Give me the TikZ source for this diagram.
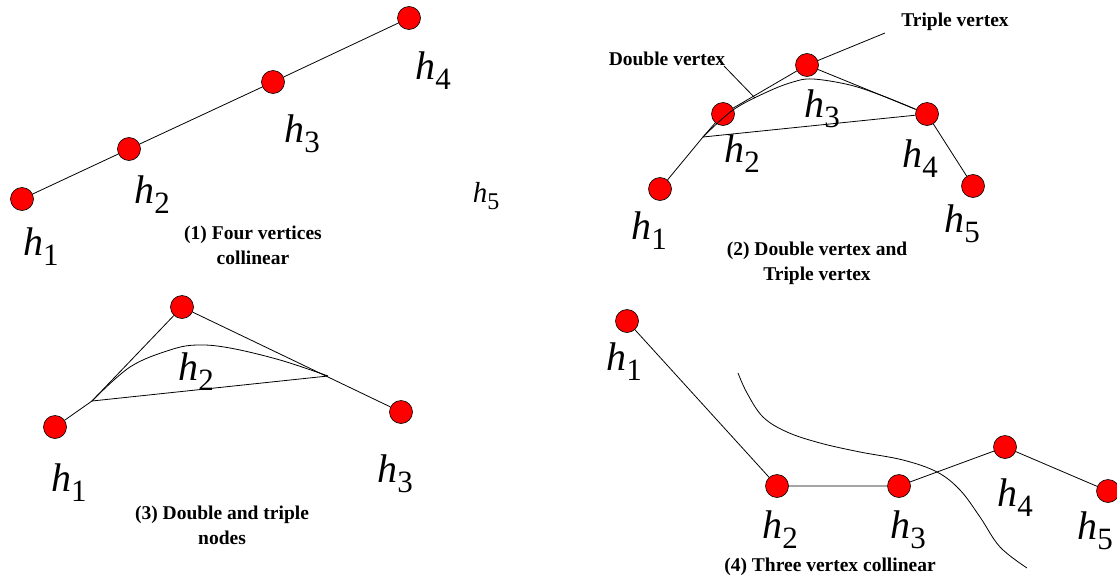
\documentclass[tikz,border=0pt]{standalone}
\usepackage{fontspec}
\setmainfont{Liberation Serif}
\tikzset{
  vtx/.style={circle, fill=red, draw=black, line width=0.6pt, minimum size=23pt, inner sep=0pt},
  conn/.style={draw=black, line width=0.8pt},
  lab/.style={inner sep=0pt},
  captext/.style={font=\fontsize{19.5}{25}\selectfont\bfseries, align=center, inner sep=0pt},
  callout/.style={font=\fontsize{19.5}{20}\selectfont\bfseries, inner sep=0pt},
}
\newcommand\hlab[1]{{\fontsize{40}{40}\selectfont\itshape h}\raisebox{-10pt}{\fontsize{31}{31}\selectfont #1}}
\newcommand\hsmall[1]{{\fontsize{29}{29}\selectfont\itshape h}\raisebox{-7pt}{\fontsize{24}{24}\selectfont #1}}
\begin{document}
\begin{tikzpicture}[x=1pt,y=-1pt]
\useasboundingbox (0,0) rectangle (1117,581);

% ---------- Panel 1 ----------
\node[vtx] (a1) at (22,199) {};
\node[vtx] (a2) at (129,149) {};
\node[vtx] (a3) at (273,82) {};
\node[vtx] (a4) at (409,18) {};
\draw[conn] (a1) -- (a2) -- (a3) -- (a4);
\node[lab] (la1) at (41,247) {\hlab{1}};
\node[lab] (la2) at (152,195) {\hlab{2}};
\node[lab] (la3) at (302,134) {\hlab{3}};
\node[lab] (la4) at (433,71) {\hlab{4}};
\node[lab] (la5) at (486,196) {\hsmall{5}};
\node[captext] (c1) at (253,245) {(1) Four vertices\\collinear};

% ---------- Panel 2 ----------
\node[vtx] (b1) at (660,189) {};
\node[vtx] (b2) at (723,114) {};
\node[vtx] (b3) at (807,65) {};
\node[vtx] (b4) at (927,114) {};
\node[vtx] (b5) at (973,186) {};
\coordinate (bA) at (703,137);
\draw[conn] (b1) -- (bA) -- (b2) -- (b3) -- (b4) -- (b5);
\draw[conn] (bA) -- (b4);
\draw[conn] plot[smooth, tension=0.6] coordinates {(703,137) (733,110) (767,92) (793,82) (813,79) (850,85) (883,96) (915,109)};
\node[lab] (lb1) at (649,231) {\hlab{1}};
\node[lab] (lb2) at (742,154) {\hlab{2}};
\node[lab] (lb3) at (822,109) {\hlab{3}};
\node[lab] (lb4) at (920,159) {\hlab{4}};
\node[lab] (lb5) at (962,224) {\hlab{5}};
\node[callout] (dv) at (667,59) {Double vertex};
\node[callout] (tv) at (955,22) {Triple vertex};
\coordinate (dvs) at (724,66);
\coordinate (dve) at (755,98);
\coordinate (tvs) at (885,33);
\draw[conn] (dvs) -- (dve);
\draw[conn] (tvs) -- (b3);
\node[captext] (c2) at (817,263) {(2) Double vertex and\\Triple vertex};

% ---------- Panel 3 ----------
\node[vtx] (d1) at (55,427) {};
\node[vtx] (d2) at (182,307) {};
\node[vtx] (d3) at (401,412) {};
\coordinate (dA) at (92,401);
\coordinate (dB) at (328,376);
\draw[conn] (d1) -- (dA) -- (d2) -- (d3);
\draw[conn] (dA) -- (dB);
\draw[conn] plot[smooth, tension=0.6] coordinates {(92,401) (130,367) (170,350) (197,345) (230,348) (280,360) (328,376)};
\node[lab] (ld1) at (69,483) {\hlab{1}};
\node[lab] (ld2) at (196,372) {\hlab{2}};
\node[lab] (ld3) at (395,474) {\hlab{3}};
\node[captext] (c3) at (222,525) {(3) Double and triple\\nodes};

% ---------- Panel 4 ----------
\node[vtx] (e1) at (627,321) {};
\node[vtx] (e2) at (777,486) {};
\node[vtx] (e3) at (899,486) {};
\node[vtx] (e4) at (1005,447) {};
\node[vtx] (e5) at (1108,491) {};
\draw[conn] (e1) -- (e2) -- (e3) -- (e4) -- (e5);
\draw[conn] plot[smooth, tension=0.6] coordinates {(738,373) (747,393) (763,417) (787,432) (820,443) (860,452) (903,460) (937,472) (960,490) (980,517) (1000,547) (1027,568)};
\node[lab] (le1) at (624,362) {\hlab{1}};
\node[lab] (le2) at (780,530) {\hlab{2}};
\node[lab] (le3) at (908,530) {\hlab{3}};
\node[lab] (le4) at (1015,498) {\hlab{4}};
\node[lab] (le5) at (1095,531) {\hlab{5}};
\node[captext] (c4) at (830,567) {(4) Three vertex collinear};
\end{tikzpicture}
\end{document}
